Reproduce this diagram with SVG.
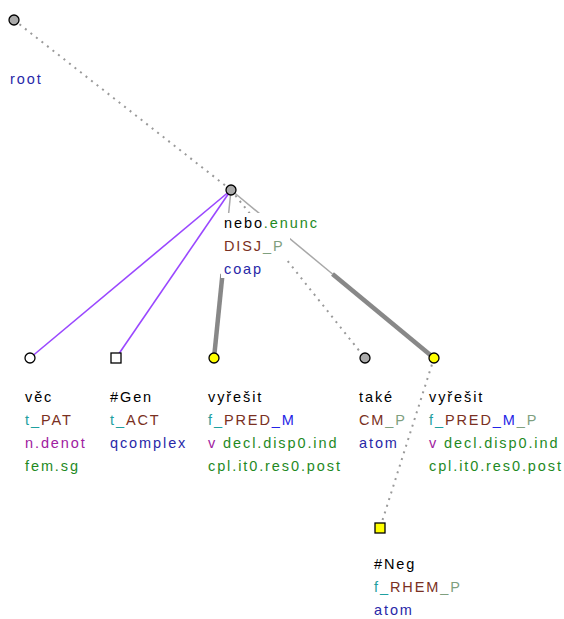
<svg xmlns="http://www.w3.org/2000/svg" width="564" height="619" viewBox="0 0 564 619">
<style>
text{font-family:"Liberation Sans",Arial,sans-serif;font-size:14.5px;letter-spacing:1.9px}
.k{fill:#000}.g{fill:#1f8a1f}.t{fill:#1fa0a0}.b{fill:#7a3022}.m{fill:#2424e6}.p{fill:#7f9f7f}.v{fill:#a020a0}.n{fill:#2828a8}
.dot{stroke:#9a9a9a;stroke-width:2;stroke-dasharray:2,5;fill:none}
.pur{stroke:#9a48ff;stroke-width:1.6;fill:none}
.thin{stroke:#a8a8a8;stroke-width:1.5;fill:none}
.thick{stroke:#888;stroke-width:4.5;fill:none}
.nd{stroke:#000;stroke-width:1.3}
.gray{fill:#aaa}.wh{fill:#fff}.yel{fill:#ff0}
.bg{fill:#fff}
</style>
<g id="edges">
<line class="dot" x1="14" y1="20" x2="231" y2="190"/>
<line class="pur" x1="231" y1="190" x2="30" y2="358"/>
<line class="pur" x1="231" y1="190" x2="116" y2="358"/>
<line class="thin" x1="231" y1="190" x2="222.5" y2="274"/>
<line class="thick" x1="222.5" y1="274" x2="214" y2="358"/>
<line class="dot" x1="231" y1="190" x2="365" y2="358"/>
<line class="thin" x1="231" y1="190" x2="332.5" y2="274"/>
<line class="thick" x1="332.5" y1="274" x2="434" y2="358"/>
<line class="dot" x1="434" y1="358" x2="380" y2="528"/>
</g>
<g id="root">
<circle class="nd gray" cx="14" cy="20" r="5"/>
<text x="10" y="84"><tspan class="n">root</tspan></text>
</g>
<g id="coap">
<rect class="bg" x="221" y="213" width="105" height="23"/>
<rect class="bg" x="221" y="236" width="69" height="23"/>
<rect class="bg" x="221" y="259" width="49" height="19"/>
<circle class="nd gray" cx="231" cy="190" r="5"/>
<text x="224" y="228"><tspan class="k">nebo</tspan><tspan class="g">.enunc</tspan></text>
<text x="224" y="251"><tspan class="b">DISJ</tspan><tspan class="p">_P</tspan></text>
<text x="224" y="274"><tspan class="n">coap</tspan></text>
</g>
<g id="vec">
<circle class="nd wh" cx="30" cy="358" r="5"/>
<text x="25" y="402" class="k">věc</text>
<text x="25" y="425"><tspan class="t">t_</tspan><tspan class="b">PAT</tspan></text>
<text x="25" y="448" class="v">n.denot</text>
<text x="25" y="471" class="g">fem.sg</text>
</g>
<g id="gen">
<rect class="nd wh" x="111" y="353" width="10" height="10"/>
<text x="110" y="402" class="k">#Gen</text>
<text x="110" y="425"><tspan class="t">t_</tspan><tspan class="b">ACT</tspan></text>
<text x="110" y="448" class="n">qcomplex</text>
</g>
<g id="vyresit1">
<circle class="nd yel" cx="214" cy="358" r="5"/>
<text x="208" y="402" class="k">vyřešit</text>
<text x="208" y="425"><tspan class="t">f_</tspan><tspan class="b">PRED</tspan><tspan class="m">_M</tspan></text>
<text x="208" y="448"><tspan class="v">v</tspan><tspan class="g"> decl.disp0.ind</tspan></text>
<text x="208" y="471" class="g">cpl.it0.res0.post</text>
</g>
<g id="take">
<circle class="nd gray" cx="365" cy="358" r="5"/>
<text x="359" y="402" class="k">také</text>
<text x="359" y="425"><tspan class="b">CM</tspan><tspan class="p">_P</tspan></text>
<text x="359" y="448" class="n">atom</text>
</g>
<g id="vyresit2">
<circle class="nd yel" cx="434" cy="358" r="5"/>
<text x="429" y="402" class="k">vyřešit</text>
<text x="429" y="425"><tspan class="t">f_</tspan><tspan class="b">PRED</tspan><tspan class="m">_M</tspan><tspan class="p">_P</tspan></text>
<text x="429" y="448"><tspan class="v">v</tspan><tspan class="g"> decl.disp0.ind</tspan></text>
<text x="429" y="471" class="g">cpl.it0.res0.post</text>
</g>
<g id="neg">
<rect class="nd yel" x="375" y="523" width="10" height="10"/>
<text x="374" y="569" class="k">#Neg</text>
<text x="374" y="592"><tspan class="t">f_</tspan><tspan class="b">RHEM</tspan><tspan class="p">_P</tspan></text>
<text x="374" y="615" class="n">atom</text>
</g>
</svg>
